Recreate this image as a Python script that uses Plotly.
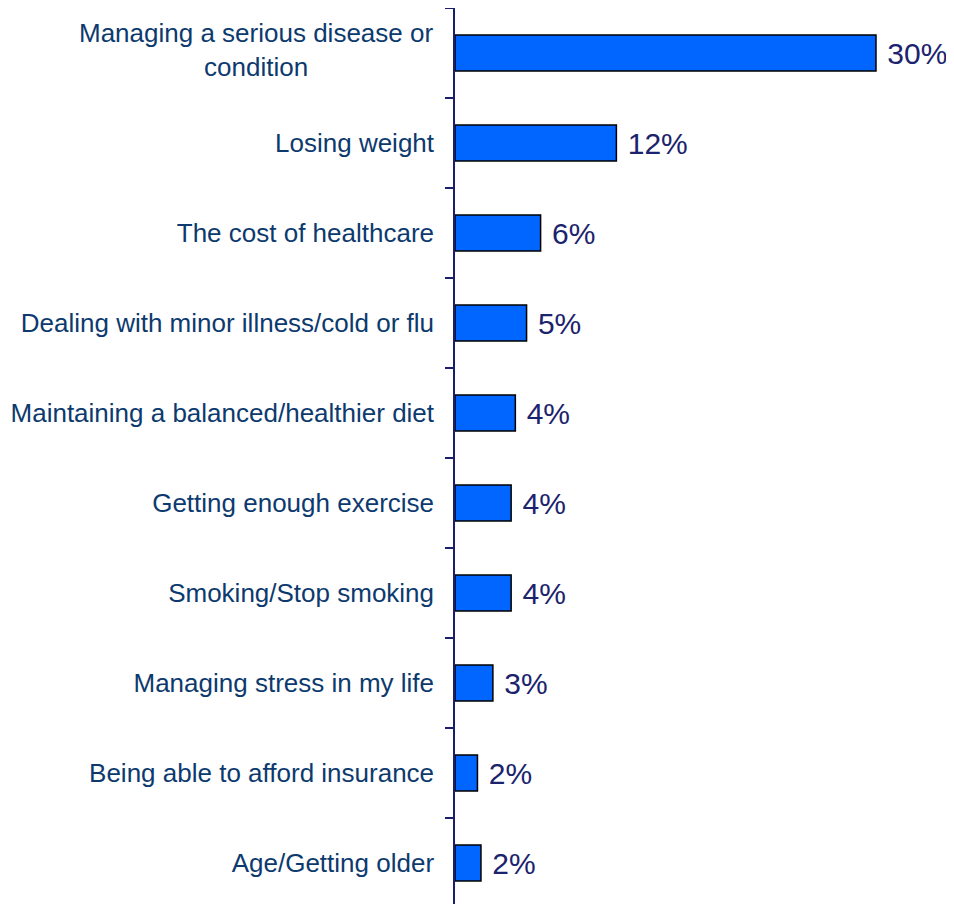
import plotly.graph_objects as go

categories = [
    "Managing a serious disease or<br>condition",
    "Losing weight",
    "The cost of healthcare",
    "Dealing with minor illness/cold or flu",
    "Maintaining a balanced/healthier diet",
    "Getting enough exercise",
    "Smoking/Stop smoking",
    "Managing stress in my life",
    "Being able to afford insurance",
    "Age/Getting older",
]
values = [30.0, 11.5, 6.1, 5.1, 4.3, 4.0, 4.0, 2.7, 1.6, 1.85]
value_labels = ["30%", "12%", "6%", "5%", "4%", "4%", "4%", "3%", "2%", "2%"]

CAT_COLOR = "#0D3A6E"
VAL_COLOR = "#1B236E"
AXIS_COLOR = "#1B1F6B"
FONT = "Liberation Sans, Arial, sans-serif"

tick_text = ["" if "<br>" in c else c for c in categories]

fig = go.Figure(
    go.Bar(
        y=categories,
        x=values,
        orientation="h",
        marker=dict(color="#0066FF", line=dict(color="#000000", width=1.5)),
        text=[" " + v for v in value_labels],
        textposition="outside",
        textfont=dict(family=FONT, size=30, color=VAL_COLOR),
        cliponaxis=False,
        width=0.4,
    )
)

annotations = []
for c in categories:
    if "<br>" in c:
        annotations.append(dict(
            x=0, xref="paper", y=c, yref="y", text=c, showarrow=False,
            xanchor="right", align="center", xshift=-20, yshift=3,
            font=dict(family=FONT, size=26, color=CAT_COLOR),
        ))

fig.update_layout(
    width=954,
    height=904,
    margin=dict(l=447, r=8, t=0, b=4),
    paper_bgcolor="white",
    plot_bgcolor="white",
    showlegend=False,
    annotations=annotations,
    xaxis=dict(range=[0, 35.56], visible=False, fixedrange=True),
    yaxis=dict(
        type="category",
        categoryorder="array",
        categoryarray=categories,
        autorange="reversed",
        tickmode="array",
        tickvals=categories,
        ticktext=tick_text,
        tickson="boundaries",
        ticks="outside",
        ticklen=8,
        tickwidth=1.5,
        tickcolor=AXIS_COLOR,
        showline=True,
        linecolor=AXIS_COLOR,
        linewidth=1.5,
        showgrid=False,
        ticklabelstandoff=14,
        tickfont=dict(family=FONT, size=26, color=CAT_COLOR),
    ),
)

fig.write_html("out.html")
